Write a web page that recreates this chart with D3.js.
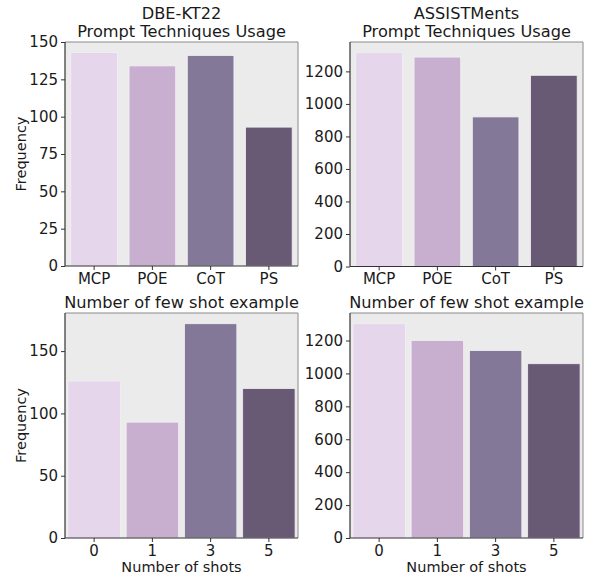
<!DOCTYPE html>
<html><head><meta charset="utf-8">
<script src="https://cdn.jsdelivr.net/npm/d3@7"></script>
<style>body{margin:0;background:#fff}svg{display:block}text{font-family:"DejaVu Sans",sans-serif;fill:#1a1a1a}</style>
</head><body><svg id="c" width="594" height="577"></svg>
<script>
const techniques = ["MCP", "POE", "CoT", "PS"];
const dbeTechValues = [143, 134, 141, 93];
const assistTechValues = [1315, 1288, 920, 1176];
const shots = ["0", "1", "3", "5"];
const dbeShotValues = [126, 93, 172, 120];
const assistShotValues = [1302, 1200, 1139, 1059];
const dbeTechTicks = [0, 25, 50, 75, 100, 125, 150];
const assistTicks = [0, 200, 400, 600, 800, 1000, 1200];
const dbeShotTicks = [0, 50, 100, 150];
const colors = ["#e6d6ec", "#c8afd0", "#847899", "#685a74"];

const svg = d3.select("#c");
const panels = [
  {x0:65, x1:298, y0:42, y1:266, cats:techniques, vals:dbeTechValues, max:150, ticks:dbeTechTicks, title:["DBE-KT22","Prompt Techniques Usage"], ylab:true, xlab:false, pad:0.2},
  {x0:350, x1:583, y0:42, y1:266.5, cats:techniques, vals:assistTechValues, max:1315*1.05, ticks:assistTicks, title:["ASSISTMents","Prompt Techniques Usage"], ylab:false, xlab:false, pad:0.2},
  {x0:65, x1:298, y0:313, y1:538, cats:shots, vals:dbeShotValues, max:172*1.05, ticks:dbeShotTicks, title:["Number of few shot example"], ylab:true, xlab:true, pad:0.1},
  {x0:350, x1:583, y0:313, y1:538, cats:shots, vals:assistShotValues, max:1302*1.05, ticks:assistTicks, title:["Number of few shot example"], ylab:false, xlab:true, pad:0.1}
];

panels.forEach(p => {
  const g = svg.append("g");
  const x = d3.scaleBand().domain(p.cats).range([p.x0, p.x1]).paddingInner(p.pad).paddingOuter(p.pad/2);
  const y = d3.scaleLinear().domain([0, p.max]).range([p.y1, p.y0]);
  g.append("rect").attr("x", p.x0).attr("y", p.y0).attr("width", p.x1-p.x0).attr("height", p.y1-p.y0).attr("fill", "#ebebeb");
  g.selectAll(".bar").data(p.vals).join("rect")
    .attr("x", (d,i) => x(p.cats[i])).attr("width", x.bandwidth())
    .attr("y", d => y(d)).attr("height", d => y(0)-y(d))
    .attr("fill", (d,i) => colors[i]).attr("stroke", "#f3eef5").attr("stroke-width", 0.8);
  g.append("path").attr("d", `M${p.x0},${p.y0}H${p.x1}V${p.y1}`).attr("fill","none").attr("stroke","#8a8a8a").attr("stroke-width",1);
  const ya = g.append("g").attr("transform", `translate(${p.x0},0)`).call(d3.axisLeft(y).tickValues(p.ticks).tickFormat(d3.format("d")).tickSize(4).tickPadding(3));
  const xa = g.append("g").attr("transform", `translate(0,${p.y1})`).call(d3.axisBottom(x).tickSize(4).tickPadding(3));
  [ya, xa].forEach(a => {
    a.selectAll("text").style("font-size", "15px").attr("fill", "#1a1a1a");
    a.selectAll("line").attr("stroke", "#333");
    a.select(".domain").attr("stroke", "#333").attr("stroke-width", 1.2);
  });
  ya.select(".domain").attr("d", `M0,${p.y0}V${p.y1}`);
  xa.select(".domain").attr("d", `M${p.x0},0H${p.x1}`);
  const cx = (p.x0+p.x1)/2;
  const n = p.title.length;
  p.title.forEach((t,i) => {
    g.append("text").attr("x", cx).attr("y", p.y0 - 5 - (n-1-i)*18.5).attr("text-anchor","middle").style("font-size","16.2px").text(t);
  });
  if (p.ylab) g.append("text").attr("transform", `translate(26,${(p.y0+p.y1)/2}) rotate(-90)`).attr("text-anchor","middle").style("font-size","14.5px").text("Frequency");
  if (p.xlab) g.append("text").attr("x", cx).attr("y", p.y1 + 34).attr("text-anchor","middle").style("font-size","14.5px").text("Number of shots");
});
</script></body></html>
